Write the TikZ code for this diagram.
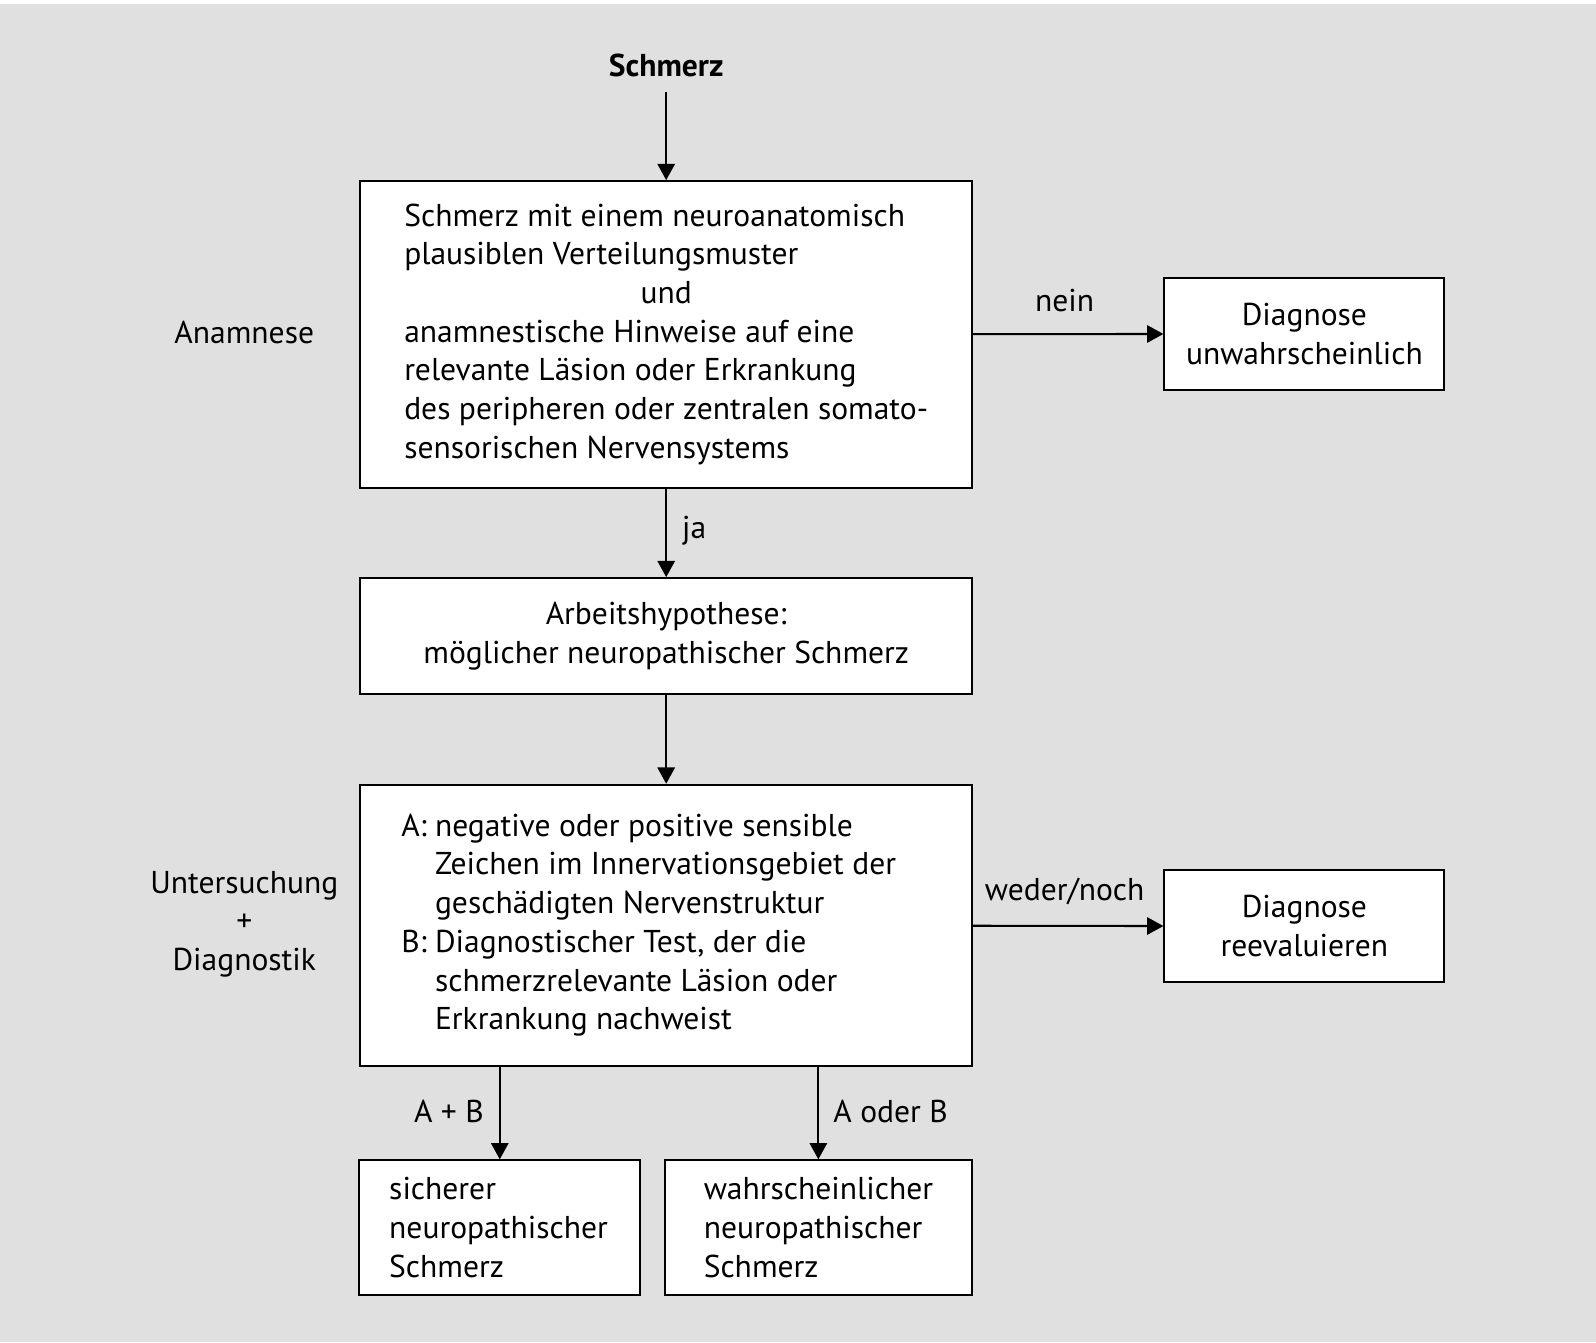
\documentclass[tikz,border=0pt]{standalone}
\usepackage{fontspec}
\setmainfont{PT Sans}
\usetikzlibrary{arrows.meta}
\definecolor{bggray}{HTML}{E0E0E0}
\begin{document}
\begin{tikzpicture}[x=0.5pt,y=-0.5pt,
  every node/.style={font=\fontsize{15.5}{19}\selectfont, inner sep=0pt},
  box/.style={draw, line width=1pt, fill=white, inner sep=0pt},
  arr/.style={line width=1pt, -{Triangle[length=8pt,width=8.5pt]}},
  lbl/.style={align=center}]
% background
\fill[white] (0,0) rectangle (1568,1318.5);
\fill[bggray] (0,4) rectangle (1568,1318.5);
\useasboundingbox (0,0) rectangle (1568,1318.5);

% title
\node[font=\fontsize{15.5}{19}\selectfont\bfseries, inner xsep=3pt, inner ysep=7.5pt] (s) at (654.5,64) {Schmerz};

% boxes
\node[box, minimum width=300.5pt, minimum height=150.5pt] (b1) at (654.5,328.5) {%
\begin{tabular}{@{}l@{}}
Schmerz mit einem neuroanatomisch\\
plausiblen Verteilungsmuster\\
\multicolumn{1}{@{}c@{}}{und}\\
anamnestische Hinweise auf eine\\
relevante Läsion oder Erkrankung\\
des peripheren oder zentralen somato-\\
sensorischen Nervensystems
\end{tabular}};

\node[box, minimum width=137.5pt, minimum height=55pt, align=center] (d1) at (1281.5,328) {Diagnose\\unwahrscheinlich};

\node[box, minimum width=300.5pt, minimum height=57pt, align=center] (b2) at (654.5,625) {Arbeitshypothese:\\möglicher neuropathischer Schmerz};

\node[box, minimum width=300.5pt, minimum height=138pt] (b3) at (654.5,909) {};
\node[anchor=west, xshift=20.5pt] (t3) at (b3.west) {%
\begin{tabular}{@{}l@{}}
\makebox[16.5pt][l]{A:}negative oder positive sensible\\
\hspace{16.5pt}Zeichen im Innervationsgebiet der\\
\hspace{16.5pt}geschädigten Nervenstruktur\\
\makebox[16.5pt][l]{B:}Diagnostischer Test, der die\\
\hspace{16.5pt}schmerzrelevante Läsion oder\\
\hspace{16.5pt}Erkrankung nachweist
\end{tabular}};

\node[box, minimum width=137.5pt, minimum height=55pt, align=center] (d2) at (1281.5,910) {Diagnose\\reevaluieren};

\node[box, minimum width=138pt, minimum height=66pt] (sb) at (491,1206) {};
\node[anchor=west, xshift=15pt, align=left] (ts) at (sb.west) {sicherer\\neuropathischer\\Schmerz};

\node[box, minimum width=151pt, minimum height=66pt] (wb) at (804,1206) {};
\node[anchor=west, xshift=19.5pt, align=left] (tw) at (wb.west) {wahrscheinlicher\\neuropathischer\\Schmerz};

% side labels
\node[lbl] (anam) at (240,327) {Anamnese};
\node[lbl] (unters) at (240,908) {Untersuchung\\+\\Diagnostik};

% connector labels
\node (nein) at (1046,295) {nein};
\node (ja) at (682,521) {ja};
\node (weder) at (1046,876) {weder/noch};
\node (ab) at (441,1092) {A + B};
\node (aob) at (875,1092) {A oder B};

% connectors
\draw[arr] (s.south) -- (b1.north);
\draw[arr] (b1) -- (d1);
\draw[arr] (b1) -- (b2);
\draw[arr] (b2) -- (b3);
\draw[arr] (b3) -- (d2);
\draw[arr] (b3.south -| sb.north) -- (sb.north);
\draw[arr] (b3.south -| wb.north) -- (wb.north);
\end{tikzpicture}
\end{document}
